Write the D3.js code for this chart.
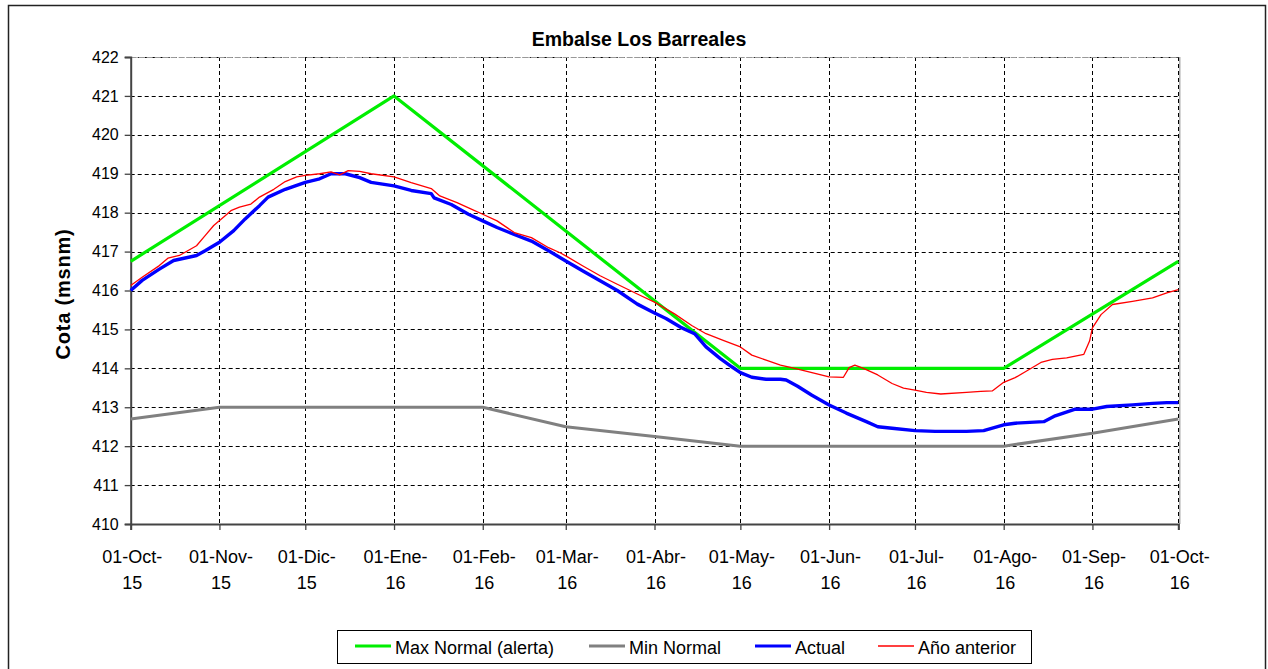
<!DOCTYPE html>
<html>
<head>
<meta charset="utf-8">
<script src="https://cdn.jsdelivr.net/npm/d3@7"></script>
<style>
  html, body { margin: 0; padding: 0; background: #fff; }
  svg { display: block; font-family: "Liberation Sans", Arial, sans-serif; }
</style>
</head>
<body>
<svg id="chart" width="1268" height="669"></svg>
<script>
// ---------------- DATA ----------------
const chartTitle = "Embalse Los Barreales";
const yAxisTitle = "Cota (msnm)";

const maxNormalDates  = ["2015-10-01", "2016-01-01", "2016-05-01", "2016-08-01", "2016-10-01"];
const maxNormalValues = [416.75, 421.0, 414.0, 414.0, 416.75];

const minNormalDates  = ["2015-10-01", "2015-11-01", "2016-02-01", "2016-03-01", "2016-04-01", "2016-05-01", "2016-08-01", "2016-09-01", "2016-10-01"];
const minNormalValues = [412.7, 413.0, 413.0, 412.5, 412.25, 412.0, 412.0, 412.33, 412.7];

const actualDates = [
  "2015-10-01","2015-10-05","2015-10-11","2015-10-16","2015-10-24","2015-10-27","2015-11-01","2015-11-06","2015-11-10",
  "2015-11-15","2015-11-18","2015-11-24","2015-12-01","2015-12-06","2015-12-10","2015-12-15","2015-12-20","2015-12-24",
  "2016-01-01","2016-01-07","2016-01-14","2016-01-15","2016-01-21","2016-01-27","2016-02-01","2016-02-06","2016-02-12",
  "2016-02-18","2016-02-24","2016-03-01","2016-03-07","2016-03-13","2016-03-19","2016-03-26","2016-04-01","2016-04-05",
  "2016-04-10","2016-04-15","2016-04-19","2016-04-24","2016-04-28","2016-05-01","2016-05-05","2016-05-10","2016-05-15",
  "2016-05-17","2016-05-21","2016-05-26","2016-06-01","2016-06-07","2016-06-14","2016-06-18","2016-06-23","2016-07-01",
  "2016-07-08","2016-07-19","2016-07-25","2016-08-01","2016-08-05","2016-08-15","2016-08-19","2016-08-26","2016-09-01",
  "2016-09-06","2016-09-15","2016-09-22","2016-09-27","2016-10-01"
];
const actualValues = [
  416.00,416.26,416.55,416.77,416.90,417.02,417.24,417.54,417.84,
  418.18,418.40,418.60,418.78,418.87,419.00,419.00,418.90,418.78,
  418.69,418.57,418.49,418.38,418.21,417.96,417.79,417.62,417.44,
  417.27,417.02,416.76,416.50,416.25,416.00,415.65,415.42,415.28,
  415.06,414.89,414.55,414.25,414.04,413.89,413.77,413.72,413.72,
  413.70,413.54,413.31,413.06,412.85,412.63,412.50,412.46,412.40,
  412.38,412.38,412.40,412.55,412.59,412.63,412.78,412.95,412.95,
  413.02,413.06,413.10,413.12,413.12
];

const prevYearDates = [
  "2015-10-01","2015-10-05","2015-10-11","2015-10-14","2015-10-18","2015-10-24","2015-10-27","2015-10-30","2015-11-03",
  "2015-11-05","2015-11-08","2015-11-12","2015-11-15","2015-11-20","2015-11-24","2015-11-28","2015-12-01","2015-12-06",
  "2015-12-10","2015-12-13","2015-12-16","2015-12-20","2015-12-24","2016-01-01","2016-01-07","2016-01-14","2016-01-17",
  "2016-01-23","2016-01-28","2016-02-01","2016-02-06","2016-02-12","2016-02-18","2016-02-24","2016-02-28","2016-03-01",
  "2016-03-07","2016-03-13","2016-03-19","2016-03-26","2016-04-01","2016-04-08","2016-04-14","2016-04-19","2016-04-25",
  "2016-05-01","2016-05-05","2016-05-10","2016-05-15","2016-05-20","2016-05-26","2016-06-01","2016-06-06","2016-06-08",
  "2016-06-10","2016-06-13","2016-06-18","2016-06-23","2016-06-27","2016-07-01","2016-07-05","2016-07-10","2016-07-19",
  "2016-07-24","2016-07-28","2016-08-01","2016-08-05","2016-08-09","2016-08-14","2016-08-18","2016-08-23","2016-08-29",
  "2016-08-31","2016-09-01","2016-09-04","2016-09-08","2016-09-15","2016-09-22","2016-09-27","2016-10-01"
];
const prevYearValues = [
  416.13,416.34,416.64,416.83,416.90,417.15,417.41,417.67,417.92,
  418.05,418.14,418.22,418.40,418.60,418.80,418.92,418.96,419.00,
  419.05,418.97,419.08,419.06,419.00,418.92,418.77,418.62,418.43,
  418.26,418.09,417.96,417.79,417.49,417.36,417.10,416.97,416.89,
  416.63,416.38,416.16,415.91,415.70,415.40,415.10,414.89,414.72,
  414.55,414.34,414.21,414.08,414.00,413.89,413.78,413.77,414.02,
  414.08,414.00,413.83,413.61,413.49,413.44,413.38,413.34,413.38,
  413.41,413.42,413.64,413.76,413.93,414.15,414.23,414.27,414.36,
  414.70,415.04,415.38,415.64,415.72,415.81,415.94,416.02
];

const xTickDates  = ["2015-10-01","2015-11-01","2015-12-01","2016-01-01","2016-02-01","2016-03-01","2016-04-01",
                     "2016-05-01","2016-06-01","2016-07-01","2016-08-01","2016-09-01","2016-10-01"];
const xTickLabels = ["01-Oct-15","01-Nov-15","01-Dic-15","01-Ene-16","01-Feb-16","01-Mar-16","01-Abr-16",
                     "01-May-16","01-Jun-16","01-Jul-16","01-Ago-16","01-Sep-16","01-Oct-16"];
const yTicks = [410, 411, 412, 413, 414, 415, 416, 417, 418, 419, 420, 421, 422];

const seriesNames  = ["Max Normal (alerta)", "Min Normal", "Actual", "Año anterior"];
const seriesColors = ["#00ee00", "#808080", "#0000ff", "#ff0000"];

// ---------------- CHART ----------------
(function () {
const parse = d3.utcParse("%Y-%m-%d");
const svg = d3.select("#chart");

const pLeft = 130.7, pRight = 1178.3, pTop = 57, pBottom = 524;

const x = d3.scaleUtc()
  .domain([parse("2015-10-01"), parse("2016-10-01")])
  .range([pLeft, pRight]);
const y = d3.scaleLinear().domain([410, 422]).range([pBottom, pTop]);

// outer frame
svg.append("rect").attr("x", 8.5).attr("y", 5.5).attr("width", 1257).attr("height", 680)
  .attr("fill", "none").attr("stroke", "#222").attr("stroke-width", 1.5);

// gridlines
const grid = svg.append("g");
grid.selectAll("line.h").data(yTicks.filter(v => v > 410)).join("line")
  .attr("x1", pLeft).attr("x2", pRight)
  .attr("y1", d => Math.round(y(d)) + 0.5).attr("y2", d => Math.round(y(d)) + 0.5)
  .attr("stroke", "#000").attr("stroke-width", 1).attr("stroke-dasharray", "4,3");
grid.selectAll("line.v").data(xTickDates.slice(1)).join("line")
  .attr("x1", d => Math.round(x(parse(d))) + 0.5).attr("x2", d => Math.round(x(parse(d))) + 0.5)
  .attr("y1", pTop).attr("y2", pBottom)
  .attr("stroke", "#000").attr("stroke-width", 1).attr("stroke-dasharray", "4,3");

// plot border (top/right gray)
svg.append("line").attr("x1", pLeft).attr("x2", pRight + 1).attr("y1", pTop + 0.5).attr("y2", pTop + 0.5)
  .attr("stroke", "#999").attr("stroke-width", 1).attr("stroke-dasharray", "6,2");
svg.append("line").attr("x1", pRight + 1.5).attr("x2", pRight + 1.5).attr("y1", pTop).attr("y2", pBottom)
  .attr("stroke", "#999").attr("stroke-width", 1.2);

// axes
const yAxis = d3.axisLeft(y).tickValues(yTicks).tickSize(6).tickPadding(6).tickFormat(d3.format("d"));
const gy = svg.append("g").attr("transform", `translate(${pLeft},0)`).call(yAxis);
gy.select(".domain").attr("stroke", "#444").attr("stroke-width", 2);
gy.selectAll(".tick line").attr("stroke", "#444").attr("stroke-width", 1.3);
gy.selectAll(".tick text").attr("font-size", 16).attr("fill", "#000")
  .attr("font-family", "'Liberation Sans', Arial, sans-serif");

const xAxis = d3.axisBottom(x).tickValues(xTickDates.map(parse)).tickSize(6).tickFormat(() => "");
const gx = svg.append("g").attr("transform", `translate(0,${pBottom})`).call(xAxis);
gx.select(".domain").attr("stroke", "#444").attr("stroke-width", 2);
gx.selectAll(".tick line").attr("stroke", "#444").attr("stroke-width", 1.3);
gx.selectAll(".tick").each(function(d, i) {
  const lab = xTickLabels[i];
  const k = lab.lastIndexOf("-");
  const t = d3.select(this).append("text")
    .attr("text-anchor", "middle").attr("font-size", 18).attr("fill", "#000")
    .attr("font-family", "'Liberation Sans', Arial, sans-serif");
  t.append("tspan").attr("x", 1).attr("y", 39).text(lab.slice(0, k + 1));
  t.append("tspan").attr("x", 1).attr("y", 65).text(lab.slice(k + 1));
});

// lines
const lineGen = d3.line().x(d => x(d.date)).y(d => y(d.value));
function mk(dates, values) { return dates.map((d, i) => ({ date: parse(d), value: values[i] })); }
const seriesData = [
  mk(maxNormalDates, maxNormalValues),
  mk(minNormalDates, minNormalValues),
  mk(actualDates, actualValues),
  mk(prevYearDates, prevYearValues)
];
const widths = [3.2, 3, 3.4, 1.3];
const order = [1, 0, 2, 3];
order.forEach(i => {
  svg.append("path").datum(seriesData[i]).attr("d", lineGen)
    .attr("fill", "none").attr("stroke", seriesColors[i]).attr("stroke-width", widths[i])
    .attr("stroke-linejoin", "round");
});

// title
svg.append("text").attr("x", 639).attr("y", 46).attr("text-anchor", "middle")
  .attr("font-size", 19.5).attr("font-weight", "bold").text(chartTitle);

// y axis title
svg.append("text").attr("transform", "translate(70,294) rotate(-90)")
  .attr("text-anchor", "middle").attr("font-size", 20).attr("font-weight", "bold")
  .attr("letter-spacing", 0.8).text(yAxisTitle);

// legend
svg.append("rect").attr("x", 337.5).attr("y", 630.5).attr("width", 694).attr("height", 33)
  .attr("fill", "#fff").attr("stroke", "#000").attr("stroke-width", 1);
const legX = [355, 589, 755, 878];
seriesNames.forEach((name, i) => {
  svg.append("line").attr("x1", legX[i]).attr("x2", legX[i] + 36).attr("y1", 646).attr("y2", 646)
    .attr("stroke", seriesColors[i]).attr("stroke-width", i === 3 ? 1.5 : 3);
  svg.append("text").attr("x", legX[i] + 40).attr("y", 653.5).attr("font-size", 18)
    .attr("fill", "#000").text(name);
});
})();
</script>
</body>
</html>
